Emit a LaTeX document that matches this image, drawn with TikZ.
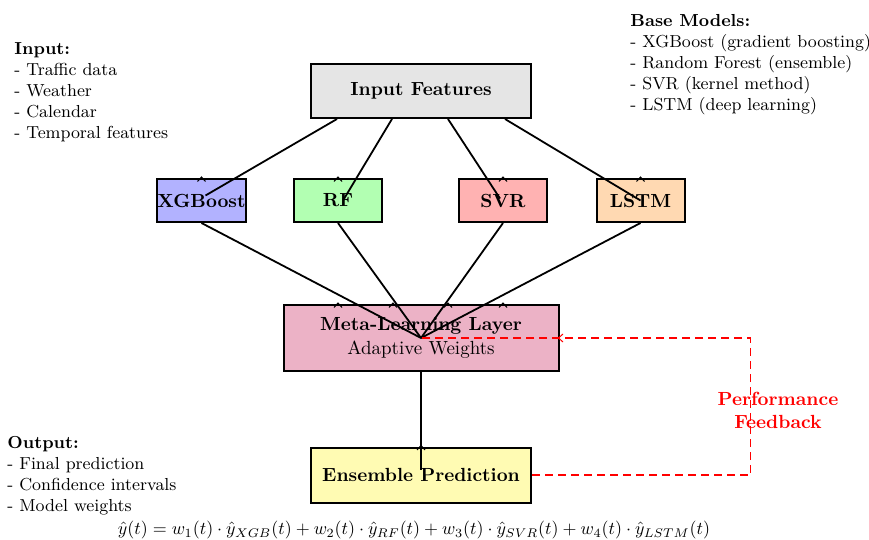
\documentclass[tikz,border=0pt]{standalone}
\usepackage{amsmath}
\usepackage{graphicx}
\begin{document}
\begin{tikzpicture}[x=0.5pt,y=-0.5pt,
  box/.style={draw=black,line width=1pt,inner sep=0pt,font=\fontsize{9.5}{11.8}\selectfont\bfseries},
  link/.style={draw=black,line width=0.9pt},
  fb/.style={draw=red,line width=0.9pt,dash pattern=on 4pt off 2.5pt},
  note/.style={anchor=north west,align=left,inner sep=0pt,font=\fontsize{8.7}{10.5}\selectfont},
  caret/.pic={\draw[line width=0.5pt,#1] (-4,3.5) -- (0,-1) -- (4,3.5);},
  caretleft/.pic={\draw[line width=0.5pt,#1] (3.5,-4) -- (-1,0) -- (3.5,4);}]
\useasboundingbox (0,0) rectangle (869,540);
% nodes
\node[box,fill=black!10,minimum width=110pt,minimum height=27pt] (input) at (421,91) {Input Features};
\node[box,fill=blue!30,minimum width=44pt,minimum height=21.5pt] (xgb) at (201.5,200.5) {XGBoost};
\node[box,fill=green!30,minimum width=44pt,minimum height=21.5pt] (rf) at (338,200.5) {RF};
\node[box,fill=red!30,minimum width=44pt,minimum height=21.5pt] (svr) at (503,200.5) {SVR};
\node[box,fill=orange!30,minimum width=44pt,minimum height=21.5pt] (lstm) at (640.5,200.5) {LSTM};
\node[box,fill=purple!30,minimum width=137.5pt,minimum height=33pt,align=center] (meta) at (421,338) {Meta-Learning Layer\\\mdseries Adaptive Weights};
\node[box,fill=yellow!30,minimum width=110pt,minimum height=27.5pt] (ens) at (421,475) {Ensemble Prediction};
% connectors input -> base
\draw[link] ([xshift=-42pt]input.south) -- ([xshift=2pt,yshift=2.5pt]xgb.center);
\draw[link] ([xshift=-14.5pt]input.south) -- ([xshift=2.5pt]rf.center);
\draw[link] ([xshift=13.5pt]input.south) -- ([xshift=-1.5pt,yshift=1pt]svr.center);
\draw[link] ([xshift=42pt]input.south) -- (lstm.center);
\pic at (xgb.north) {caret};
\pic at (rf.north) {caret};
\pic at (svr.north) {caret};
\pic at (lstm.north) {caret};
% base -> meta
\draw[link] (xgb.south) -- (meta.center);
\draw[link] (rf.south) -- (meta.center);
\draw[link] (svr.south) -- (meta.center);
\draw[link] (lstm.south) -- (meta.center);
\pic at ([xshift=-41.5pt]meta.north) {caret};
\pic at ([xshift=-14pt]meta.north) {caret};
\pic at ([xshift=13.5pt]meta.north) {caret};
\pic at ([xshift=41pt]meta.north) {caret};
% meta -> ensemble
\draw[link] (meta.south) -- ([yshift=2.5pt]ens.center);
\pic at (ens.north) {caret};
% feedback
\coordinate (fbc) at (750.5,475);
\draw[fb] (ens.east) -- (fbc) |- (meta.center);
\pic at (meta.east) {caretleft=red};
\node[text=red,font=\fontsize{9.5}{11.5}\selectfont\bfseries,align=center] (fblabel) at (778,410) {Performance\\Feedback};
% notes
\node[note] (innote) at (14,42) {\textbf{Input:}\\- Traffic data\\- Weather\\- Calendar\\- Temporal features};
\node[note] (basenote) at (630,14) {\textbf{Base Models:}\\- XGBoost (gradient boosting)\\- Random Forest (ensemble)\\- SVR (kernel method)\\- LSTM (deep learning)};
\node[note] (outnote) at (7,436) {\textbf{Output:}\\- Final prediction\\- Confidence intervals\\- Model weights};
\node[inner sep=0pt] (formula) at (414,530) {\resizebox{296pt}{!}{$\hat{y}(t) = w_1(t)\cdot\hat{y}_{XGB}(t) + w_2(t)\cdot\hat{y}_{RF}(t) + w_3(t)\cdot\hat{y}_{SVR}(t) + w_4(t)\cdot\hat{y}_{LSTM}(t)$}};
\end{tikzpicture}
\end{document}
